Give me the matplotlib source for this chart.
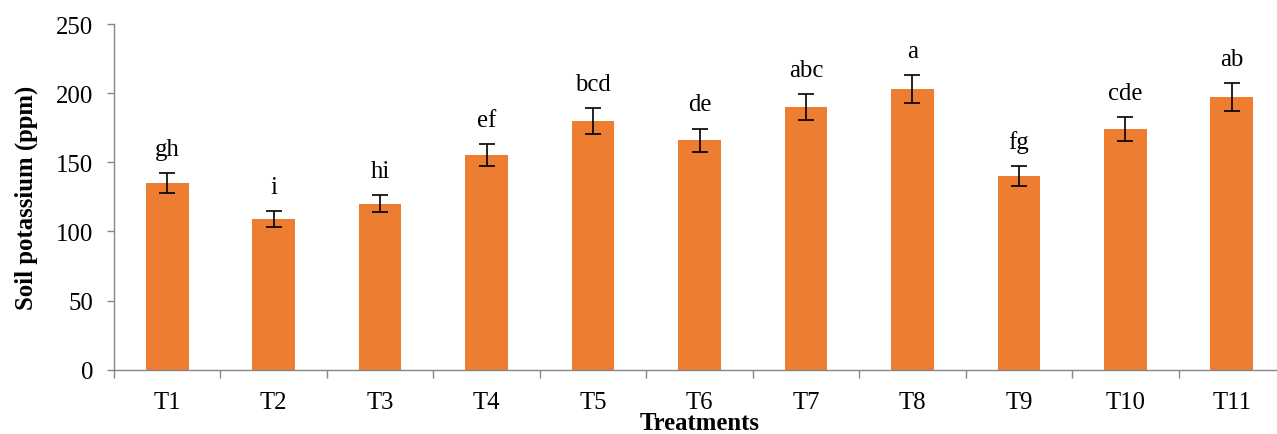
import matplotlib
matplotlib.use("Agg")
import matplotlib.pyplot as plt
import numpy as np

treatments = ["T1", "T2", "T3", "T4", "T5", "T6", "T7", "T8", "T9", "T10", "T11"]
potassium = [135, 109, 120, 155, 180, 166, 190, 203, 140, 174, 197]
errors = [7, 5.7, 6, 8, 9.2, 8.4, 9.5, 10.4, 7.1, 8.6, 10]
letters = ["gh", "i", "hi", "ef", "bcd", "de", "abc", "a", "fg", "cde", "ab"]

plt.rcParams['font.family'] = ['Liberation Serif', 'DejaVu Serif']

FS = 17.8
W, H = 1277, 435
fig = plt.figure(figsize=(W / 100, H / 100), dpi=100)
left, right = 114 / W, 1285 / W
bottom, top = 1 - 370.7 / H, 1 - 25 / H
ax = fig.add_axes([left, bottom, right - left, top - bottom])

x = np.arange(1, len(treatments) + 1)
ax.bar(x, potassium, width=0.4, color="#ED7D31", zorder=2)
ax.errorbar(x, potassium, yerr=errors, fmt="none", ecolor="black",
            elinewidth=1.2, capsize=6, capthick=1.2, zorder=3)

for xi, v, e, lab in zip(x, potassium, errors, letters):
    ax.annotate(lab, (xi, v + e), xytext=(0, 13), textcoords="offset points",
                ha="center", va="baseline", fontsize=FS)

ax.set_xlim(0.5, len(treatments) + 0.5)
ax.set_ylim(0, 250)
ax.set_yticks(np.arange(0, 251, 50))
ax.tick_params(axis="y", labelsize=FS, length=5, width=1, color="#868686",
               direction="out", pad=10)
ax.set_xticks(x)
ax.set_xticklabels(treatments)
ax.tick_params(axis="x", which="major", length=0, labelsize=FS, pad=15)
ax.set_xticks(np.arange(0.5, len(treatments) + 1, 1), minor=True)
ax.tick_params(axis="x", which="minor", length=6, width=1, color="#868686",
               direction="out")

for s in ["top", "right"]:
    ax.spines[s].set_visible(False)
for s in ["left", "bottom"]:
    ax.spines[s].set_color("#868686")
    ax.spines[s].set_linewidth(1)

ax.set_ylabel("Soil potassium (ppm)", fontsize=FS, fontweight="bold", labelpad=13)
ax.set_xlabel("Treatments", fontsize=FS, fontweight="bold", labelpad=-1)

fig.savefig("out.png", dpi=100)
